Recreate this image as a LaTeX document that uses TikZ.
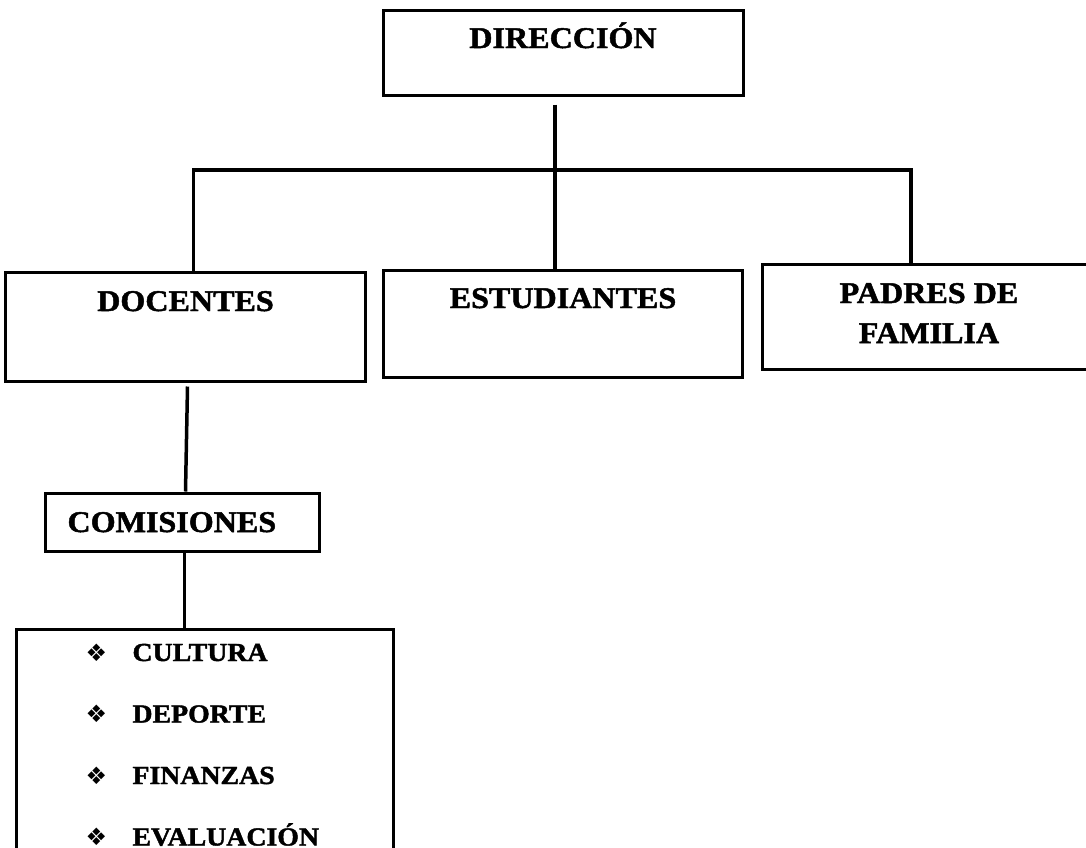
\documentclass[tikz,border=0pt]{standalone}
\usepackage{fontspec}
\usepackage{tikz}
\usetikzlibrary{positioning}
\newfontfamily\orgfont[FakeStretch=1.07,FakeBold=1.6]{Liberation Serif}
\newfontfamily\symfont{DejaVu Sans}
\newcommand\boxfont{\orgfont\bfseries\fontsize{30}{40}\selectfont}
\newcommand\listfont{\orgfont\bfseries\fontsize{26}{61.5}\selectfont}
\newcommand\itembul{\hspace*{69pt}\makebox[47pt][l]{\symfont\fontsize{24}{24}\selectfont\symbol{"2756}}}

\begin{document}
\begin{tikzpicture}[x=1pt,y=-1pt,
                    org box/.style={draw,line width=3pt,inner ysep=0pt,font=\boxfont},
                    link/.style={line width=3.5pt}]
  \useasboundingbox (0,0) rectangle (1086,847);
  %levels%
  \node[org box,minimum width=360pt,text height=38pt,text depth=47pt] (dir) at (563,52.5) {DIRECCIÓN};
  \node[org box,minimum width=359pt,text height=38pt,text depth=69pt] (est) [below=172pt of dir] {ESTUDIANTES};
  \node[org box,minimum width=360pt,text height=39pt,text depth=70pt] (doc) [left=15pt of est,yshift=-3pt] {DOCENTES};
  \node[org box,minimum width=333pt,text height=79pt,text depth=26pt,align=center] (pad) [right=17pt of est,yshift=7pt] {PADRES DE\\FAMILIA};
  \node[org box,text width=230pt,inner xsep=22pt,align=left,text height=39pt,text depth=19pt] (com) [below=109pt of doc,xshift=-3pt] {COMISIONES};
  \node[org box,font=\listfont,text width=377pt,inner xsep=0pt,align=left,text height=32pt,text depth=226pt] (lst) [below=75pt of com,xshift=22.5pt]
    {\itembul CULTURA\\ \itembul DEPORTE\\ \itembul FINANZAS\\ \itembul EVALUACIÓN};

  \coordinate (bus) at (555,170);
  \draw[link] ([xshift=-8pt,yshift=-8pt]dir.south) -- ([xshift=-8pt]est.north);
  \draw[link] ([xshift=8pt]doc.north) |- (bus) -| ([xshift=-18pt]pad.north);
  \draw[link] ([xshift=2pt,yshift=-4pt]doc.south) -- ([xshift=3pt]com.north);
  \draw[link] ([xshift=2pt]com.south) -- ([xshift=2pt]com.south |- lst.north);
\end{tikzpicture}
\end{document}
